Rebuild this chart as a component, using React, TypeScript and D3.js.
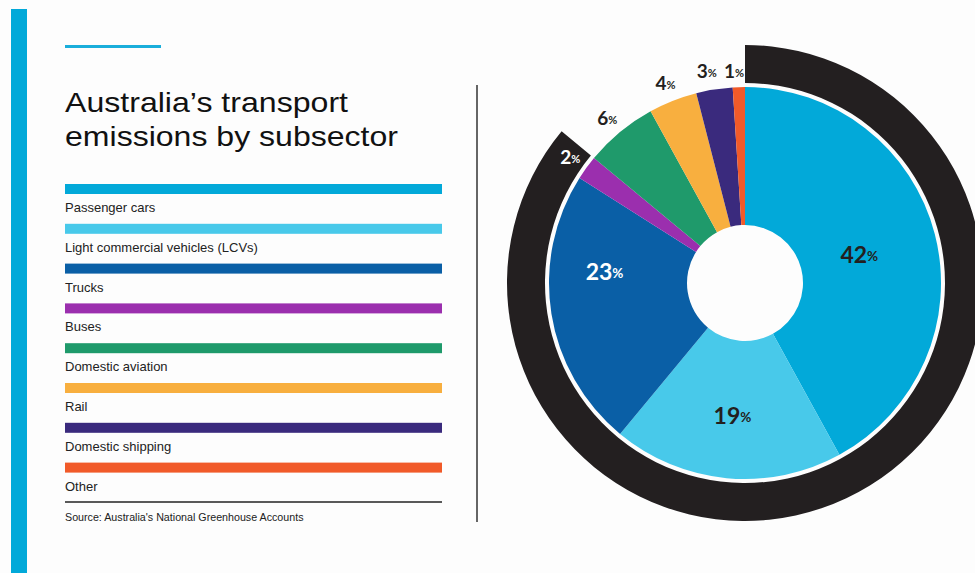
import React from 'react'
import * as d3 from 'd3'

const categories = [
  'Passenger cars',
  'Light commercial vehicles (LCVs)',
  'Trucks',
  'Buses',
  'Domestic aviation',
  'Rail',
  'Domestic shipping',
  'Other',
]
const shares = [42, 19, 23, 2, 6, 4, 3, 1]
const colors = ['#02a9d9', '#48c9ea', '#0a5fa6', '#9b2fae', '#1f9a6b', '#f8af3f', '#3a2a7d', '#f15a29']
// first four subsectors are road transport, wrapped by the black ring
const roadCount = 4

const W = 975
const H = 573

export default function App() {
  const cx = 745
  const cy = 283
  const rOuter = 196
  const rInner = 58
  const ringIn = 200
  const ringOut = 238

  const pie = d3.pie<number>().sort(null).value(d => d)
  const arcs = pie(shares)
  const arc = d3.arc<d3.PieArcDatum<number>>().innerRadius(rInner).outerRadius(rOuter)

  const roadEnd = arcs[roadCount - 1].endAngle
  const ringPath = d3.arc()({ innerRadius: ringIn, outerRadius: ringOut, startAngle: 0, endAngle: roadEnd }) as string

  // label placement: inside big slices, outside for the small ones
  const deg = Math.PI / 180
  const labelPos = (a: d3.PieArcDatum<number>, i: number) => {
    let ang = (a.startAngle + a.endAngle) / 2
    let r = 216
    if (i === 0) r = 118
    if (i === 1) r = 133
    if (i === 2) { r = 141; ang += 14 * deg }
    if (i === 6) ang -= 1.2 * deg
    if (i === 7) r = 213
    return [Math.sin(ang) * r, -Math.cos(ang) * r]
  }
  const inside = (i: number) => i < 3
  const labelFill = (i: number) => (i === 2 || i === 3 ? '#ffffff' : '#231f20')

  const legendY = d3.scaleLinear().domain([0, 1]).range([184, 223.8])

  return (
    <svg width={W} height={H} style={{ position: 'fixed', left: 0, top: 0, background: '#fdfdfd' }}
      fontFamily="'Liberation Sans', Arial, sans-serif">
      <rect x={0} y={0} width={W} height={H} fill="#fdfdfd" />
      <rect x={11} y={9} width={16} height={H} fill="#02a9d9" />
      <rect x={65} y={45} width={96} height={3} fill="#1aaedb" />
      <text x={65} y={112} fontSize={28.5} fill="#111" textLength={283} lengthAdjust="spacingAndGlyphs">Australia’s transport</text>
      <text x={65} y={146} fontSize={28.5} fill="#111" textLength={333} lengthAdjust="spacingAndGlyphs">emissions by subsector</text>

      {categories.map((c, i) => (
        <g key={c}>
          <rect x={65} y={legendY(i)} width={377} height={10} fill={colors[i]} />
          <text x={65} y={legendY(i) + 28} fontSize={13} fill="#222">{c}</text>
        </g>
      ))}
      <line x1={65} x2={442} y1={502} y2={502} stroke="#222" strokeWidth={1.5} />
      <text x={65} y={521} fontSize={10.7} fill="#222">Source: Australia's National Greenhouse Accounts</text>

      <line x1={477} x2={477} y1={85} y2={522} stroke="#333" strokeWidth={1.5} />

      <g transform={`translate(${cx},${cy})`}>
        <path d={ringPath} fill="#231f20" />
        {arcs.map((a, i) => (
          <path key={i} d={arc(a) as string} fill={colors[i]} />
        ))}
        {arcs.map((a, i) => {
          const [x, y] = labelPos(a, i)
          // the last label would run into the ring's edge, so it ends just left of it
          const anchor = i === 7 ? 'end' : 'middle'
          return (
            <text key={'l' + i} x={i === 7 ? -1 : x} y={y} textAnchor={anchor} dominantBaseline="central"
              fontFamily="Lato, 'Open Sans', sans-serif" fontWeight={700} fill={labelFill(i)}>
              <tspan fontSize={inside(i) ? 23 : 19}>{shares[i]}</tspan>
              <tspan fontSize={inside(i) ? 13.5 : 11} dy={2}>%</tspan>
            </text>
          )
        })}
      </g>
    </svg>
  )
}
